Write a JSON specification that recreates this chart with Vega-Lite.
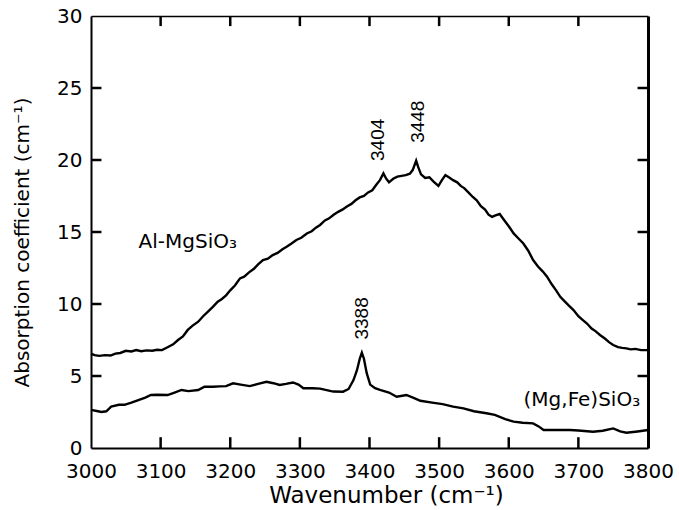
{
  "$schema": "https://vega.github.io/schema/vega-lite/v6.json",
  "width": 557,
  "height": 432,
  "autosize": "none",
  "padding": {"left": 91, "top": 16, "right": 31, "bottom": 62},
  "background": "white",
  "config": {
    "view": {"stroke": null},
    "axis": {"grid": false, "domainColor": "black", "tickColor": "black", "labelColor": "black", "titleColor": "black", "labelFont": "DejaVu Sans", "titleFont": "DejaVu Sans", "titleFontWeight": "normal"}
  },
  "datasets": {
    "curves": [
      {"s":"A","wn":3000,"a":6.55},{"s":"A","wn":3005,"a":6.45},{"s":"A","wn":3012,"a":6.4},{"s":"A","wn":3020,"a":6.45},{"s":"A","wn":3028,"a":6.42},{"s":"A","wn":3035,"a":6.55},{"s":"A","wn":3042,"a":6.6},{"s":"A","wn":3050,"a":6.75},{"s":"A","wn":3058,"a":6.7},{"s":"A","wn":3065,"a":6.8},{"s":"A","wn":3072,"a":6.72},{"s":"A","wn":3080,"a":6.78},{"s":"A","wn":3088,"a":6.75},{"s":"A","wn":3095,"a":6.82},{"s":"A","wn":3102,"a":6.8},{"s":"A","wn":3110,"a":7.0},{"s":"A","wn":3118,"a":7.2},{"s":"A","wn":3125,"a":7.5},{"s":"A","wn":3132,"a":7.75},{"s":"A","wn":3139,"a":8.2},{"s":"A","wn":3146,"a":8.5},{"s":"A","wn":3154,"a":8.77},{"s":"A","wn":3161,"a":9.15},{"s":"A","wn":3168,"a":9.47},{"s":"A","wn":3175,"a":9.8},{"s":"A","wn":3182,"a":10.16},{"s":"A","wn":3188,"a":10.35},{"s":"A","wn":3194,"a":10.6},{"s":"A","wn":3200,"a":10.95},{"s":"A","wn":3207,"a":11.3},{"s":"A","wn":3214,"a":11.78},{"s":"A","wn":3220,"a":11.9},{"s":"A","wn":3227,"a":12.2},{"s":"A","wn":3234,"a":12.45},{"s":"A","wn":3240,"a":12.75},{"s":"A","wn":3247,"a":13.05},{"s":"A","wn":3254,"a":13.15},{"s":"A","wn":3261,"a":13.4},{"s":"A","wn":3268,"a":13.55},{"s":"A","wn":3275,"a":13.8},{"s":"A","wn":3281,"a":13.98},{"s":"A","wn":3288,"a":14.2},{"s":"A","wn":3295,"a":14.45},{"s":"A","wn":3302,"a":14.6},{"s":"A","wn":3310,"a":14.9},{"s":"A","wn":3317,"a":15.05},{"s":"A","wn":3323,"a":15.3},{"s":"A","wn":3329,"a":15.49},{"s":"A","wn":3336,"a":15.8},{"s":"A","wn":3342,"a":15.95},{"s":"A","wn":3348,"a":16.18},{"s":"A","wn":3355,"a":16.4},{"s":"A","wn":3361,"a":16.55},{"s":"A","wn":3367,"a":16.76},{"s":"A","wn":3374,"a":16.95},{"s":"A","wn":3380,"a":17.2},{"s":"A","wn":3386,"a":17.4},{"s":"A","wn":3392,"a":17.5},{"s":"A","wn":3398,"a":17.75},{"s":"A","wn":3404,"a":17.9},{"s":"A","wn":3410,"a":18.3},{"s":"A","wn":3415,"a":18.6},{"s":"A","wn":3420,"a":19.07},{"s":"A","wn":3424,"a":18.7},{"s":"A","wn":3428,"a":18.45},{"s":"A","wn":3434,"a":18.7},{"s":"A","wn":3440,"a":18.85},{"s":"A","wn":3446,"a":18.9},{"s":"A","wn":3452,"a":18.95},{"s":"A","wn":3458,"a":19.05},{"s":"A","wn":3462,"a":19.3},{"s":"A","wn":3467,"a":19.95},{"s":"A","wn":3470,"a":19.5},{"s":"A","wn":3474,"a":19.0},{"s":"A","wn":3480,"a":18.75},{"s":"A","wn":3486,"a":18.8},{"s":"A","wn":3492,"a":18.5},{"s":"A","wn":3499,"a":18.2},{"s":"A","wn":3504,"a":18.6},{"s":"A","wn":3509,"a":18.95},{"s":"A","wn":3514,"a":18.8},{"s":"A","wn":3520,"a":18.6},{"s":"A","wn":3526,"a":18.45},{"s":"A","wn":3531,"a":18.2},{"s":"A","wn":3536,"a":18.05},{"s":"A","wn":3542,"a":17.75},{"s":"A","wn":3548,"a":17.45},{"s":"A","wn":3554,"a":17.2},{"s":"A","wn":3560,"a":16.8},{"s":"A","wn":3566,"a":16.55},{"s":"A","wn":3571,"a":16.2},{"s":"A","wn":3576,"a":16.05},{"s":"A","wn":3581,"a":16.15},{"s":"A","wn":3587,"a":16.25},{"s":"A","wn":3593,"a":15.85},{"s":"A","wn":3600,"a":15.4},{"s":"A","wn":3607,"a":14.9},{"s":"A","wn":3614,"a":14.55},{"s":"A","wn":3621,"a":14.2},{"s":"A","wn":3628,"a":13.7},{"s":"A","wn":3635,"a":13.05},{"s":"A","wn":3642,"a":12.6},{"s":"A","wn":3649,"a":12.25},{"s":"A","wn":3655,"a":11.9},{"s":"A","wn":3662,"a":11.35},{"s":"A","wn":3668,"a":10.95},{"s":"A","wn":3674,"a":10.5},{"s":"A","wn":3680,"a":10.2},{"s":"A","wn":3686,"a":9.9},{"s":"A","wn":3693,"a":9.58},{"s":"A","wn":3700,"a":9.15},{"s":"A","wn":3706,"a":8.9},{"s":"A","wn":3712,"a":8.66},{"s":"A","wn":3719,"a":8.3},{"s":"A","wn":3725,"a":8.1},{"s":"A","wn":3731,"a":7.85},{"s":"A","wn":3738,"a":7.6},{"s":"A","wn":3744,"a":7.35},{"s":"A","wn":3750,"a":7.15},{"s":"A","wn":3757,"a":7.0},{"s":"A","wn":3763,"a":6.95},{"s":"A","wn":3769,"a":6.92},{"s":"A","wn":3775,"a":6.85},{"s":"A","wn":3782,"a":6.88},{"s":"A","wn":3790,"a":6.8},{"s":"A","wn":3800,"a":6.8},
      {"s":"B","wn":3000,"a":2.65},{"s":"B","wn":3010,"a":2.55},{"s":"B","wn":3015,"a":2.5},{"s":"B","wn":3022,"a":2.55},{"s":"B","wn":3029,"a":2.87},{"s":"B","wn":3040,"a":3.0},{"s":"B","wn":3048,"a":3.0},{"s":"B","wn":3058,"a":3.15},{"s":"B","wn":3068,"a":3.33},{"s":"B","wn":3078,"a":3.5},{"s":"B","wn":3086,"a":3.68},{"s":"B","wn":3095,"a":3.7},{"s":"B","wn":3110,"a":3.68},{"s":"B","wn":3120,"a":3.85},{"s":"B","wn":3130,"a":4.03},{"s":"B","wn":3140,"a":3.95},{"s":"B","wn":3154,"a":4.03},{"s":"B","wn":3163,"a":4.26},{"s":"B","wn":3175,"a":4.25},{"s":"B","wn":3185,"a":4.28},{"s":"B","wn":3194,"a":4.3},{"s":"B","wn":3204,"a":4.49},{"s":"B","wn":3215,"a":4.4},{"s":"B","wn":3228,"a":4.3},{"s":"B","wn":3240,"a":4.45},{"s":"B","wn":3252,"a":4.6},{"s":"B","wn":3262,"a":4.5},{"s":"B","wn":3271,"a":4.38},{"s":"B","wn":3280,"a":4.45},{"s":"B","wn":3290,"a":4.55},{"s":"B","wn":3298,"a":4.4},{"s":"B","wn":3305,"a":4.15},{"s":"B","wn":3318,"a":4.15},{"s":"B","wn":3329,"a":4.12},{"s":"B","wn":3340,"a":4.0},{"s":"B","wn":3348,"a":3.92},{"s":"B","wn":3362,"a":3.91},{"s":"B","wn":3370,"a":4.1},{"s":"B","wn":3377,"a":4.72},{"s":"B","wn":3382,"a":5.4},{"s":"B","wn":3386,"a":6.2},{"s":"B","wn":3389,"a":6.62},{"s":"B","wn":3392,"a":6.2},{"s":"B","wn":3396,"a":5.2},{"s":"B","wn":3401,"a":4.4},{"s":"B","wn":3408,"a":4.15},{"s":"B","wn":3415,"a":4.03},{"s":"B","wn":3428,"a":3.85},{"s":"B","wn":3439,"a":3.56},{"s":"B","wn":3453,"a":3.68},{"s":"B","wn":3465,"a":3.45},{"s":"B","wn":3473,"a":3.28},{"s":"B","wn":3490,"a":3.15},{"s":"B","wn":3505,"a":3.05},{"s":"B","wn":3520,"a":2.87},{"s":"B","wn":3535,"a":2.75},{"s":"B","wn":3550,"a":2.55},{"s":"B","wn":3568,"a":2.41},{"s":"B","wn":3580,"a":2.3},{"s":"B","wn":3595,"a":2.0},{"s":"B","wn":3607,"a":1.83},{"s":"B","wn":3620,"a":1.75},{"s":"B","wn":3635,"a":1.71},{"s":"B","wn":3643,"a":1.5},{"s":"B","wn":3650,"a":1.25},{"s":"B","wn":3665,"a":1.25},{"s":"B","wn":3688,"a":1.25},{"s":"B","wn":3700,"a":1.22},{"s":"B","wn":3721,"a":1.13},{"s":"B","wn":3735,"a":1.2},{"s":"B","wn":3750,"a":1.36},{"s":"B","wn":3760,"a":1.15},{"s":"B","wn":3769,"a":1.06},{"s":"B","wn":3785,"a":1.15},{"s":"B","wn":3800,"a":1.25}
    ],
    "peaks": [
      {"label":"3404","wn":3412,"a":21.4},
      {"label":"3448","wn":3470,"a":22.66},
      {"label":"3388","wn":3389,"a":9.0}
    ],
    "names": [
      {"label":"Al-MgSiO₃","wn":3139,"a":14.3},
      {"label":"(Mg,Fe)SiO₃","wn":3705,"a":3.3}
    ],
    "xticks": [
      {"wn":3100,"lo":0,"hi":0.75},{"wn":3200,"lo":0,"hi":0.75},{"wn":3300,"lo":0,"hi":0.75},{"wn":3400,"lo":0,"hi":0.75},{"wn":3500,"lo":0,"hi":0.75},{"wn":3600,"lo":0,"hi":0.75},{"wn":3700,"lo":0,"hi":0.75},
      {"wn":3100,"lo":29.3,"hi":30},{"wn":3200,"lo":29.3,"hi":30},{"wn":3300,"lo":29.3,"hi":30},{"wn":3400,"lo":29.3,"hi":30},{"wn":3500,"lo":29.3,"hi":30},{"wn":3600,"lo":29.3,"hi":30},{"wn":3700,"lo":29.3,"hi":30}
    ],
    "yticks": [
      {"a":5,"lo":3000,"hi":3015},{"a":10,"lo":3000,"hi":3015},{"a":15,"lo":3000,"hi":3015},{"a":20,"lo":3000,"hi":3015},{"a":25,"lo":3000,"hi":3015},
      {"a":5,"lo":3785,"hi":3800},{"a":10,"lo":3785,"hi":3800},{"a":15,"lo":3785,"hi":3800},{"a":20,"lo":3785,"hi":3800},{"a":25,"lo":3785,"hi":3800}
    ]
  },
  "layer": [
    {
      "data": {"name": "curves"},
      "mark": {"type": "line", "color": "black", "strokeWidth": 2.4},
      "encoding": {
        "x": {"field": "wn", "type": "quantitative", "scale": {"domain": [3000, 3800], "nice": false, "zero": false},
          "axis": {"orient": "bottom", "values": [3000,3100,3200,3300,3400,3500,3600,3700,3800], "ticks": false, "domainWidth": 2, "labelPadding": 13, "labelFontSize": 20, "labelFlush": false, "format": "d", "title": "Wavenumber (cm⁻¹)", "titleFontSize": 23, "titleX": 295, "titleY": 54, "titleBaseline": "alphabetic", "titleAnchor": "middle", "titleAlign": "center"}},
        "y": {"field": "a", "type": "quantitative", "scale": {"domain": [0, 30], "nice": false},
          "axis": {"orient": "left", "values": [0,5,10,15,20,25,30], "ticks": false, "domainWidth": 2, "labelPadding": 9, "labelFontSize": 20, "title": "Absorption coefficient (cm⁻¹)", "titleFontSize": 20, "titleX": -69, "titleY": 226, "titleAngle": -90, "titleAlign": "center", "titleBaseline": "middle"}},
        "detail": {"field": "s"}
      }
    },
    {
      "data": {"name": "peaks"},
      "mark": {"type": "text", "angle": 270, "font": "Liberation Sans", "fontSize": 19, "align": "center", "baseline": "middle", "color": "black"},
      "encoding": {
        "x": {"field": "wn", "type": "quantitative", "axis": {"orient": "top", "labels": false, "title": null, "ticks": false, "domainWidth": 1.5}},
        "y": {"field": "a", "type": "quantitative", "axis": {"orient": "right", "labels": false, "title": null, "ticks": false, "domainWidth": 3}},
        "text": {"field": "label"}
      }
    },
    {
      "data": {"name": "names"},
      "mark": {"type": "text", "font": "DejaVu Sans", "fontSize": 20, "align": "center", "baseline": "middle", "color": "black"},
      "encoding": {
        "x": {"field": "wn", "type": "quantitative", "axis": null},
        "y": {"field": "a", "type": "quantitative", "axis": null},
        "text": {"field": "label"}
      }
    },
    {
      "data": {"name": "xticks"},
      "mark": {"type": "rule", "color": "black", "strokeWidth": 2.5},
      "encoding": {"x": {"field": "wn", "type": "quantitative", "axis": null}, "y": {"field": "lo", "type": "quantitative", "axis": null}, "y2": {"field": "hi"}}
    },
    {
      "data": {"name": "yticks"},
      "mark": {"type": "rule", "color": "black", "strokeWidth": 2.5},
      "encoding": {"y": {"field": "a", "type": "quantitative", "axis": null}, "x": {"field": "lo", "type": "quantitative", "axis": null}, "x2": {"field": "hi"}}
    }
  ],
  "resolve": {"axis": {"x": "independent", "y": "independent"}}
}
